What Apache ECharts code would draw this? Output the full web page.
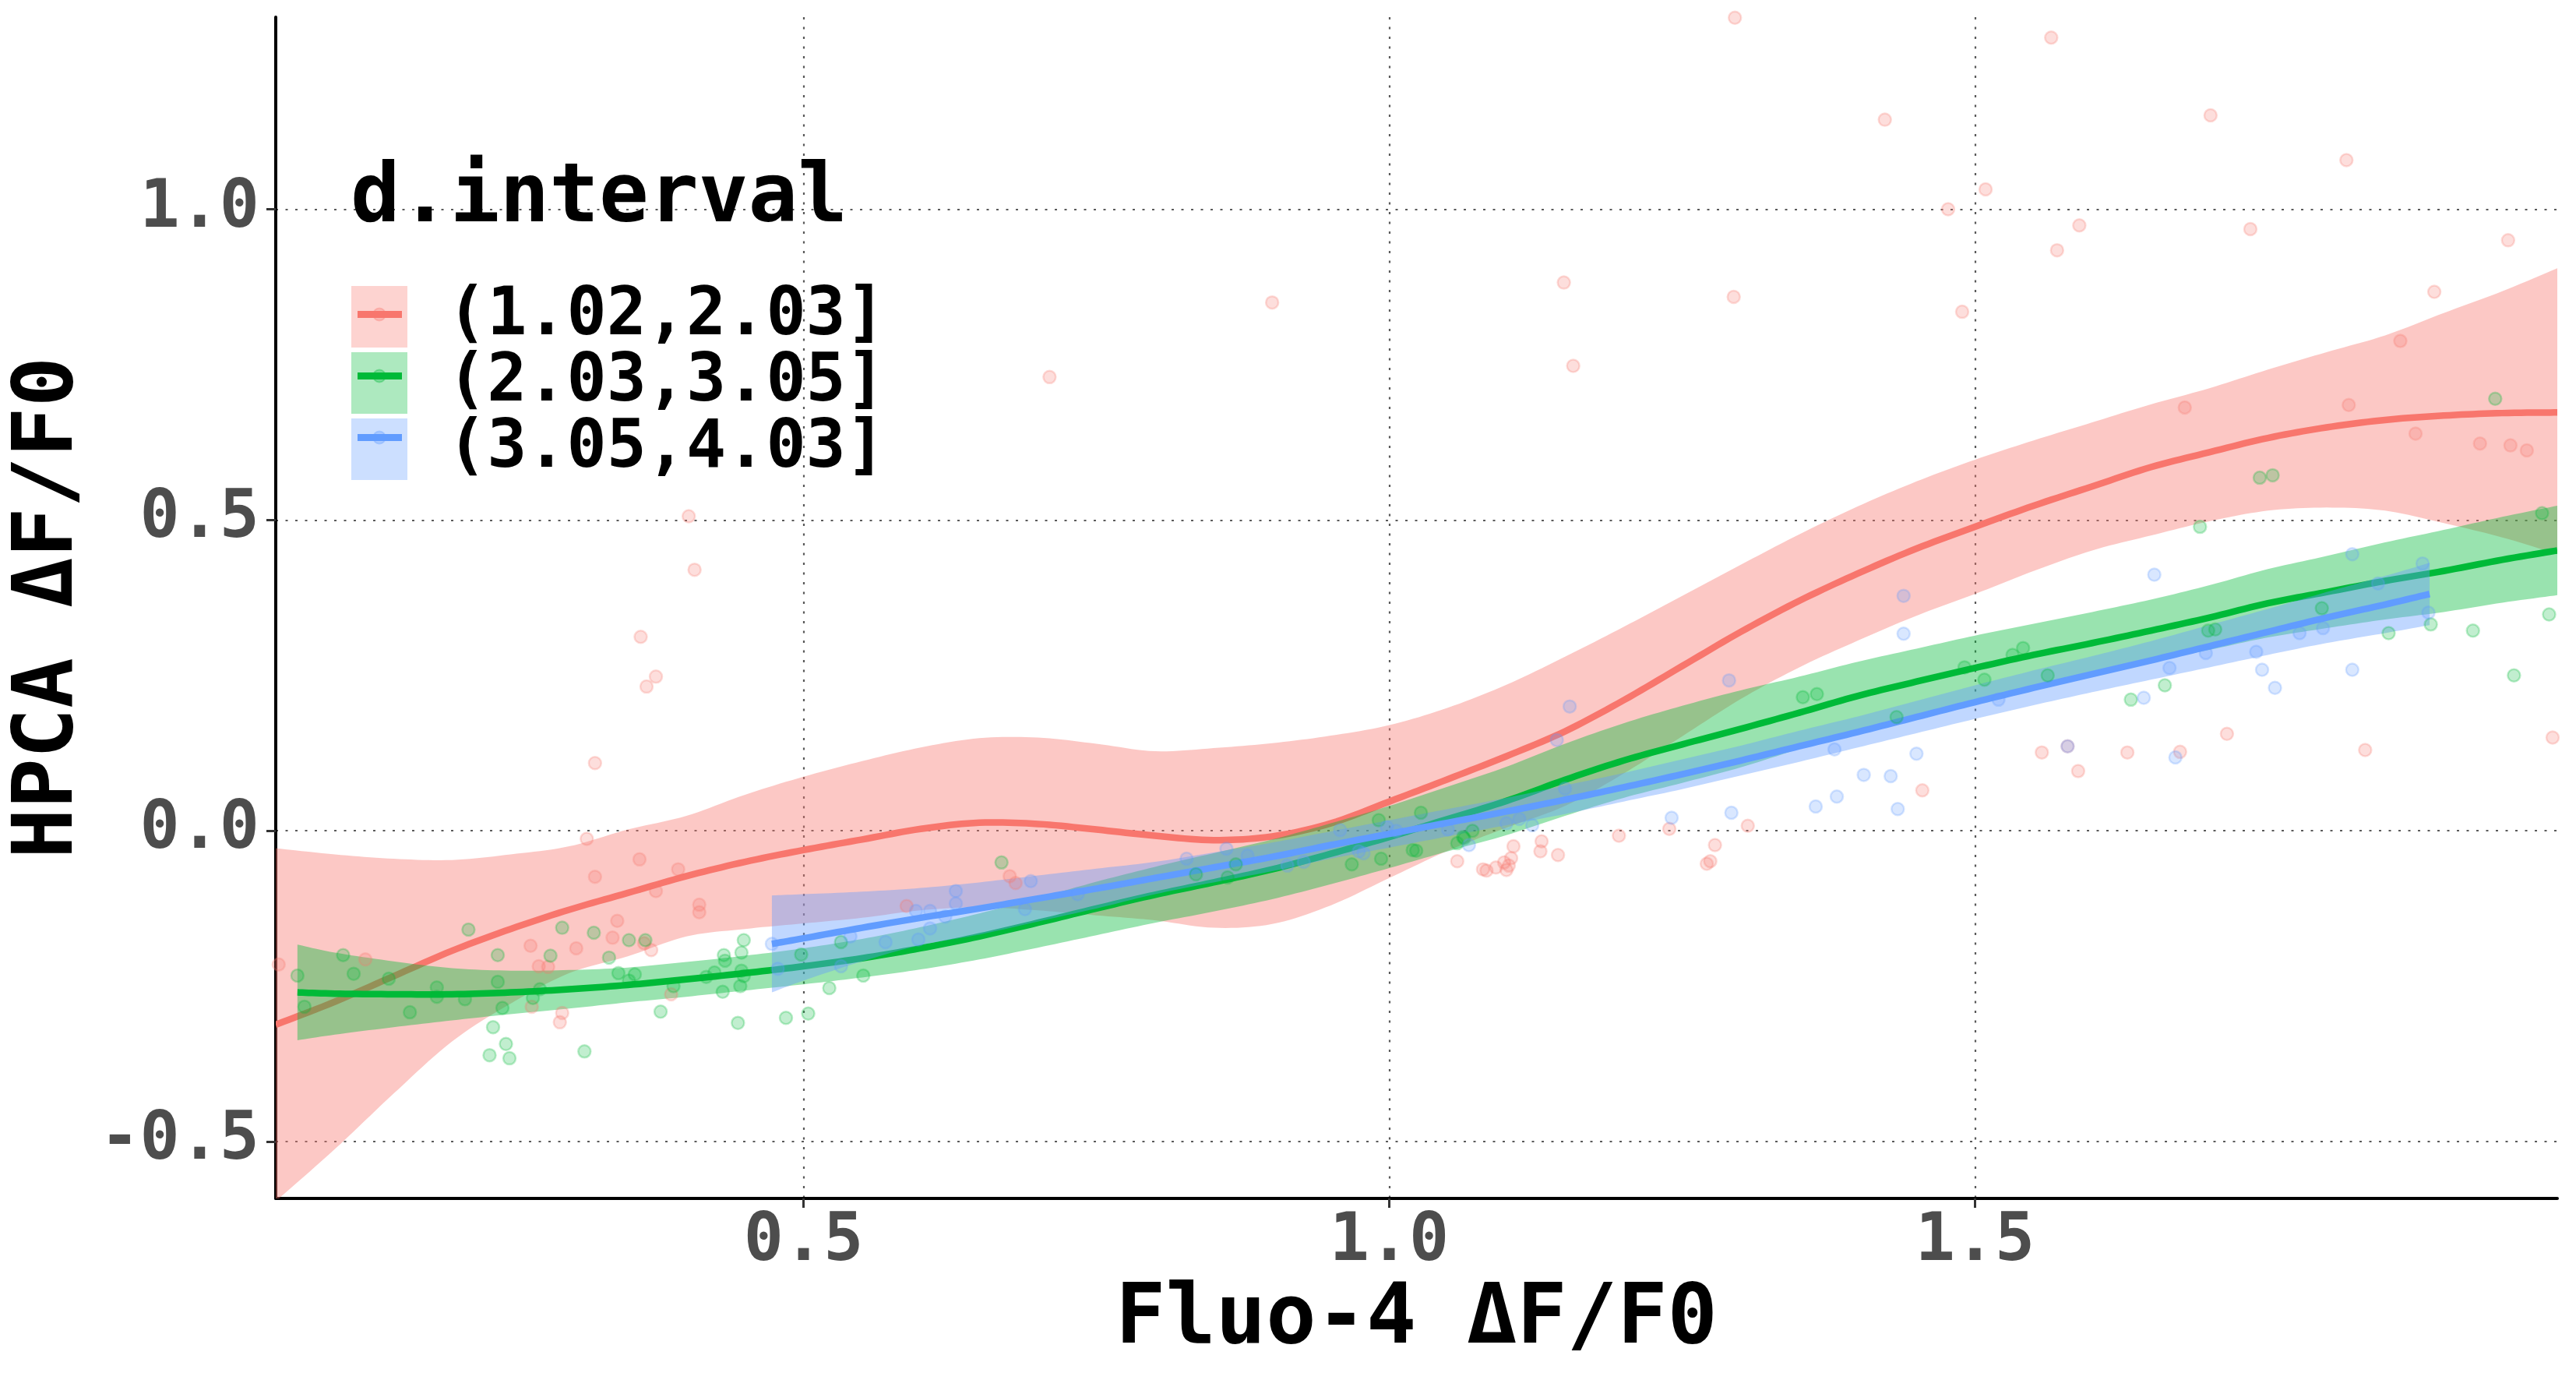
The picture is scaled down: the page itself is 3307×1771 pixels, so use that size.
<!DOCTYPE html>
<html>
<head>
<meta charset="utf-8">
<script src="https://cdn.jsdelivr.net/npm/echarts@6/dist/echarts.min.js"></script>
<style>html,body{margin:0;padding:0;background:#fff;}#chart{width:3307px;height:1771px;}</style>
</head>
<body>
<div id="chart"></div>
<script>
const groupNames = ['(1.02,2.03]', '(2.03,3.05]', '(3.05,4.03]'];
const xTicks = [0.5, 1.0, 1.5];
const yTicks = [-0.5, 0.0, 0.5, 1.0];

const redPoints = [
[1.295,1.308],[1.565,1.276],[1.423,1.144],[1.701,1.151],[1.817,1.079],[1.509,1.032],[1.477,1.000],[1.589,0.974],[1.570,0.934],[1.735,0.968],[1.955,0.950],[0.900,0.850],[1.149,0.882],[1.294,0.859],[1.489,0.835],[1.892,0.867],[1.157,0.748],[1.863,0.788],[1.679,0.681],[1.819,0.685],[1.876,0.639],[1.931,0.623],[1.957,0.620],[1.971,0.612],[0.710,0.730],[0.402,0.506],
[0.407,0.420],[0.361,0.312],[0.374,0.248],[0.366,0.232],[0.322,0.109],[0.315,-0.013],[0.360,-0.046],[0.393,-0.062],[0.322,-0.074],[0.374,-0.097],[0.411,-0.119],[0.411,-0.131],[0.341,-0.145],[0.337,-0.172],[0.267,-0.185],[0.306,-0.189],[0.364,-0.181],[0.370,-0.192],[0.274,-0.218],[0.282,-0.219],[0.126,-0.207],[0.052,-0.215],[0.387,-0.263],[0.294,-0.293],[0.292,-0.308],[0.268,-0.283],[0.676,-0.073],[0.681,-0.084],[0.588,-0.121],
[1.058,-0.049],[1.080,-0.062],[1.083,-0.064],[1.091,-0.059],[1.098,-0.051],[1.100,-0.063],[1.102,-0.056],[1.104,-0.044],[1.106,-0.025],[1.130,-0.017],[1.129,-0.033],[1.144,-0.039],[1.196,-0.008],[1.239,0.003],[1.278,-0.023],[1.271,-0.053],[1.274,-0.049],[1.306,0.008],
[1.715,0.156],[1.833,0.130],[1.675,0.127],[1.630,0.126],[1.588,0.096],[1.579,0.136],[1.557,0.126],[1.455,0.065],[1.993,0.150]
];
const greenPoints = [
[0.449,-0.176],[0.447,-0.196],[0.432,-0.200],[0.433,-0.209],[0.424,-0.228],[0.447,-0.225],[0.449,-0.234],[0.446,-0.250],[0.431,-0.259],[0.444,-0.309],[0.417,-0.235],[0.378,-0.291],[0.389,-0.250],[0.356,-0.231],[0.351,-0.241],[0.342,-0.229],[0.334,-0.204],[0.321,-0.164],[0.351,-0.176],[0.365,-0.176],[0.294,-0.156],[0.284,-0.201],[0.239,-0.200],[0.239,-0.243],[0.214,-0.159],[0.187,-0.252],[0.187,-0.267],[0.211,-0.271],[0.164,-0.292],[0.146,-0.238],[0.116,-0.230],[0.107,-0.200],[0.068,-0.233],[0.074,-0.283],[0.269,-0.269],[0.275,-0.255],[0.243,-0.285],[0.235,-0.316],[0.246,-0.343],[0.232,-0.361],[0.249,-0.366],[0.313,-0.355],
[0.532,-0.179],[0.551,-0.233],[0.522,-0.253],[0.498,-0.199],[0.485,-0.301],[0.504,-0.294],[0.669,-0.051],
[1.058,-0.020],[1.063,-0.010],[1.064,-0.012],[1.071,0.000],[0.835,-0.070],[0.862,-0.075],[0.869,-0.054],[0.968,-0.054],[0.993,-0.045],[0.991,0.017],[1.020,-0.031],[1.023,-0.032],[1.027,0.029],
[1.743,0.568],[1.754,0.572],[1.944,0.695],[1.692,0.489],[1.984,0.511],[1.889,0.332],[1.853,0.318],[1.925,0.322],[1.960,0.250],[1.990,0.348],[1.796,0.358],[1.705,0.324],[1.699,0.322],[1.662,0.234],[1.633,0.211],[1.541,0.294],[1.532,0.283],[1.562,0.250],[1.508,0.243],[1.491,0.263],[1.433,0.183],[1.365,0.220],[1.353,0.215]
];
const bluePoints = [
[1.439,0.378],[1.290,0.242],[1.154,0.200],[1.143,0.146],[1.439,0.317],[1.653,0.412],[1.822,0.445],[1.882,0.430],[1.887,0.351],[1.844,0.398],[1.777,0.318],[1.797,0.326],[1.740,0.288],[1.745,0.259],[1.756,0.230],[1.822,0.259],[1.644,0.214],[1.666,0.262],[1.697,0.286],[1.671,0.118],[1.579,0.136],[1.520,0.211],[1.380,0.131],[1.450,0.124],[1.405,0.090],[1.428,0.088],[1.434,0.035],
[1.241,0.021],[1.292,0.029],[1.364,0.039],[1.382,0.055],[1.122,0.009],[1.111,0.019],[1.100,0.012],[1.068,-0.023],[1.050,0.002],[1.150,0.068],
[0.827,-0.045],[0.861,-0.029],[0.879,-0.040],[0.913,-0.056],[0.927,-0.050],[0.958,0.001],[0.974,-0.033],[0.978,-0.036],[0.998,0.006],[1.006,0.000],
[0.694,-0.081],[0.630,-0.097],[0.630,-0.117],[0.596,-0.129],[0.608,-0.129],[0.621,-0.138],[0.608,-0.157],[0.598,-0.175],[0.570,-0.179],[0.540,-0.170],[0.532,-0.218],[0.478,-0.222],[0.473,-0.182],[0.734,-0.102],[0.689,-0.126]
];

const redFitX = [0.0495,0.10,0.15,0.20,0.25,0.30,0.35,0.40,0.45,0.50,0.55,0.60,0.65,0.70,0.75,0.80,0.85,0.90,0.95,1.00,1.05,1.10,1.15,1.20,1.25,1.30,1.35,1.40,1.45,1.50,1.55,1.60,1.65,1.70,1.75,1.80,1.85,1.90,1.95,1.997];
const redFitY = [-0.312,-0.275,-0.234,-0.193,-0.158,-0.127,-0.100,-0.073,-0.050,-0.031,-0.014,0.003,0.013,0.011,0.002,-0.008,-0.015,-0.009,0.012,0.047,0.083,0.120,0.160,0.210,0.265,0.320,0.370,0.414,0.454,0.489,0.523,0.554,0.585,0.609,0.632,0.649,0.661,0.668,0.672,0.673];
const redUpper = [-0.028,-0.038,-0.045,-0.047,-0.038,-0.025,0.002,0.024,0.058,0.087,0.112,0.134,0.149,0.150,0.140,0.128,0.133,0.141,0.153,0.170,0.198,0.235,0.280,0.328,0.378,0.428,0.477,0.522,0.562,0.597,0.628,0.657,0.686,0.712,0.742,0.770,0.797,0.833,0.868,0.905];
const redLower = [-0.596,-0.512,-0.423,-0.339,-0.278,-0.229,-0.202,-0.170,-0.158,-0.149,-0.140,-0.128,-0.123,-0.128,-0.136,-0.144,-0.156,-0.150,-0.120,-0.076,-0.032,0.005,0.040,0.092,0.152,0.212,0.263,0.306,0.346,0.381,0.418,0.451,0.475,0.498,0.515,0.520,0.515,0.495,0.472,0.445];

const greenFitX = [0.068,0.10,0.15,0.20,0.25,0.30,0.35,0.40,0.45,0.50,0.55,0.60,0.65,0.70,0.75,0.80,0.85,0.90,0.95,1.00,1.05,1.10,1.15,1.20,1.25,1.30,1.35,1.40,1.45,1.50,1.55,1.60,1.65,1.70,1.75,1.80,1.85,1.90,1.95,1.997];
const greenFitY = [-0.260,-0.262,-0.263,-0.263,-0.260,-0.255,-0.248,-0.239,-0.229,-0.218,-0.205,-0.189,-0.170,-0.148,-0.125,-0.103,-0.083,-0.062,-0.037,-0.010,0.019,0.048,0.082,0.113,0.139,0.164,0.190,0.217,0.240,0.262,0.283,0.302,0.322,0.343,0.366,0.384,0.402,0.418,0.436,0.451];
const greenUpper = [-0.183,-0.196,-0.210,-0.221,-0.225,-0.224,-0.220,-0.211,-0.201,-0.189,-0.174,-0.155,-0.133,-0.108,-0.082,-0.058,-0.036,-0.014,0.012,0.040,0.071,0.103,0.140,0.173,0.201,0.226,0.248,0.272,0.293,0.314,0.333,0.352,0.372,0.395,0.421,0.442,0.464,0.484,0.505,0.523];
const greenLower = [-0.337,-0.328,-0.316,-0.305,-0.295,-0.286,-0.276,-0.267,-0.257,-0.247,-0.236,-0.223,-0.207,-0.188,-0.168,-0.148,-0.130,-0.110,-0.086,-0.060,-0.033,-0.007,0.024,0.053,0.077,0.102,0.132,0.162,0.187,0.210,0.233,0.252,0.272,0.291,0.311,0.326,0.340,0.352,0.367,0.379];

const blueFitX = [0.473,0.50,0.55,0.60,0.65,0.70,0.75,0.80,0.85,0.90,0.95,1.00,1.05,1.10,1.15,1.20,1.25,1.30,1.35,1.40,1.45,1.50,1.55,1.60,1.65,1.70,1.75,1.80,1.85,1.888];
const blueFitY = [-0.182,-0.173,-0.156,-0.140,-0.125,-0.109,-0.093,-0.076,-0.059,-0.042,-0.023,-0.005,0.013,0.031,0.050,0.070,0.091,0.113,0.136,0.159,0.183,0.207,0.230,0.252,0.274,0.297,0.320,0.343,0.364,0.381];
const blueUpper = [-0.104,-0.102,-0.098,-0.092,-0.083,-0.072,-0.061,-0.050,-0.035,-0.019,-0.001,0.017,0.035,0.053,0.073,0.093,0.115,0.137,0.161,0.184,0.209,0.234,0.258,0.281,0.305,0.331,0.357,0.384,0.410,0.431];
const blueLower = [-0.260,-0.241,-0.210,-0.184,-0.167,-0.146,-0.125,-0.102,-0.083,-0.065,-0.045,-0.027,-0.009,0.009,0.027,0.047,0.067,0.089,0.111,0.134,0.157,0.180,0.202,0.223,0.243,0.263,0.283,0.302,0.318,0.331];

const FONT = 'DejaVu Sans Mono';
const rgb = [[248,118,109],[0,186,56],[97,156,255]];
const col = (i, a) => `rgba(${rgb[i][0]},${rgb[i][1]},${rgb[i][2]},${a})`;
const hex = ['#F8766D', '#00BA38', '#619CFF'];

const groups = [
  {pts: redPoints, fx: redFitX, fy: redFitY, lo: redLower, hi: redUpper},
  {pts: greenPoints, fx: greenFitX, fy: greenFitY, lo: greenLower, hi: greenUpper},
  {pts: bluePoints, fx: blueFitX, fy: blueFitY, lo: blueLower, hi: blueUpper}
];

// Catmull-Rom tessellation in pixel space (drawing only)
function smoothPts(p) {
  const out = [];
  const n = p.length;
  for (let i = 0; i < n - 1; i++) {
    const p0 = p[Math.max(i - 1, 0)], p1 = p[i], p2 = p[i + 1], p3 = p[Math.min(i + 2, n - 1)];
    for (let k = 0; k < 10; k++) {
      const t = k / 10, t2 = t * t, t3 = t2 * t;
      const f = (a, b, c, d) => 0.5 * (2 * b + (-a + c) * t + (2 * a - 5 * b + 4 * c - d) * t2 + (-a + 3 * b - 3 * c + d) * t3);
      out.push([f(p0[0], p1[0], p2[0], p3[0]), f(p0[1], p1[1], p2[1], p3[1])]);
    }
  }
  out.push(p[n - 1]);
  return out;
}

const series = [];
groups.forEach((g, i) => {
  series.push({
    type: 'scatter', name: groupNames[i], data: g.pts, symbolSize: 16, silent: true,
    itemStyle: {color: col(i, 0.3), borderColor: col(i, 0.32), borderWidth: 2.5}
  });
});
groups.forEach((g, i) => {
  series.push({
    type: 'custom', name: groupNames[i], clip: true, silent: true,
    data: [[g.fx[0], g.fy[0]]],
    renderItem: function (params, api) {
      const up = g.fx.map((x, k) => api.coord([x, g.hi[k]]));
      const dn = g.fx.map((x, k) => api.coord([x, g.lo[k]])).reverse();
      const pts = smoothPts(up).concat(smoothPts(dn));
      return {type: 'polygon', shape: {points: pts}, style: {fill: col(i, 0.4), stroke: null}};
    }
  });
  series.push({
    type: 'custom', name: groupNames[i], clip: true, silent: true,
    data: [[g.fx[0], g.fy[0]]],
    renderItem: function (params, api) {
      const pts = smoothPts(g.fx.map((x, k) => api.coord([x, g.fy[k]])));
      return {type: 'polyline', shape: {points: pts}, style: {stroke: hex[i], lineWidth: 8.5, fill: null, lineJoin: 'round'}};
    }
  });
});

const keyGraphics = [];
groupNames.forEach((n, i) => {
  const cy = 364 + 79 * i + 39.5;
  keyGraphics.push({type: 'circle', z: 100, shape: {cx: 487, cy: cy, r: 8}, style: {fill: col(i, 0.3), stroke: col(i, 0.3), lineWidth: 2}});
  keyGraphics.push({type: 'line', z: 101, shape: {x1: 459, y1: cy, x2: 516, y2: cy}, style: {stroke: hex[i], lineWidth: 9}});
});
keyGraphics.push({type: 'text', z: 100, left: 450, top: 203,
  style: {text: 'd.interval', font: 'bold 106px "DejaVu Sans Mono"', fill: '#000'}});

const gridLine = {color: '#5a5a5a', width: 2.2, type: [3, 9.5]};
const tickLabel = {fontSize: 85, fontWeight: 'bold', fontFamily: FONT, color: '#4d4d4d', lineHeight: 85};
const titleText = {fontSize: 107, fontWeight: 'bold', fontFamily: FONT, color: '#000', lineHeight: 107};

const option = {
  animation: false,
  backgroundColor: '#ffffff',
  grid: {left: 354, right: 24, top: 22, bottom: 233, containLabel: false, outerBoundsMode: 'none'},
  xAxis: {
    type: 'value', min: 0.0495, max: 1.997, splitNumber: 4,
    name: 'Fluo-4 ΔF/F0', nameLocation: 'middle', nameGap: 98, nameTextStyle: titleText,
    axisLine: {show: true, onZero: false, lineStyle: {color: '#000', width: 4}},
    axisTick: {show: true, customValues: xTicks, length: 12, lineStyle: {color: '#333', width: 3}},
    axisLabel: Object.assign({customValues: xTicks, margin: 14, formatter: v => Number(v).toFixed(1)}, tickLabel),
    splitLine: {show: true, lineStyle: gridLine}
  },
  yAxis: {
    type: 'value', min: -0.5915, max: 1.309, splitNumber: 4,
    name: 'HPCA ΔF/F0', nameLocation: 'middle', nameGap: 236, nameTextStyle: titleText,
    axisLine: {show: true, onZero: false, lineStyle: {color: '#000', width: 4}},
    axisTick: {show: true, customValues: yTicks, length: 12, lineStyle: {color: '#333', width: 3}},
    axisLabel: Object.assign({customValues: yTicks, margin: 21, formatter: v => Number(v).toFixed(1)}, tickLabel),
    splitLine: {show: true, lineStyle: gridLine}
  },
  legend: {
    orient: 'vertical', left: 451, top: 364, padding: 0, itemGap: 0,
    itemWidth: 72, itemHeight: 79, icon: 'rect', selectedMode: false,
    data: groupNames.map((n, i) => ({name: n, icon: 'rect', itemStyle: {color: col(i, 0.4), borderWidth: 0}})),
    textStyle: {fontSize: 85, fontWeight: 'bold', fontFamily: FONT, color: '#000', lineHeight: 85, padding: [0, 0, 0, 46]}
  },
  graphic: keyGraphics,
  series: series
};

const chart = echarts.init(document.getElementById('chart'), null, {renderer: 'canvas'});
chart.setOption(option);
</script>
</body>
</html>
